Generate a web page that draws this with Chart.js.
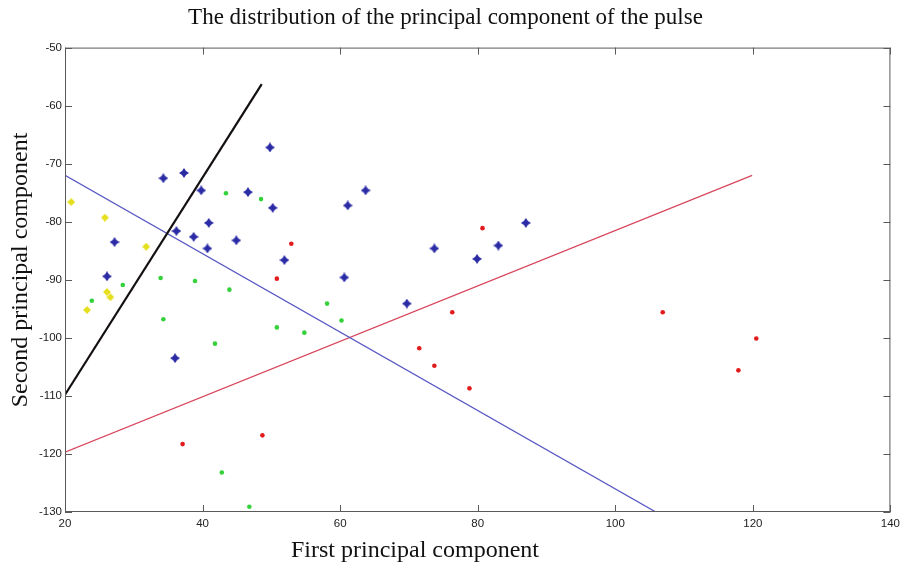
<!DOCTYPE html>
<html>
<head>
<meta charset="utf-8">
<title>Principal components</title>
<script src="https://cdn.jsdelivr.net/npm/chart.js@4/dist/chart.umd.min.js"></script>
<style>
  body { margin: 0; background: #fff; }
  #wrap { width: 905px; height: 566px; }
</style>
</head>
<body>
<div id="wrap"><canvas id="myChart"></canvas></div>
<script>
// points of each group
const blueX = [34.3, 37.3, 39.8, 49.8, 46.6, 50.2, 27.2, 36.2, 38.7, 40.9, 40.7, 44.9, 51.9, 26.1, 61.1, 63.7, 73.7, 83.0, 79.9, 87.0, 60.6, 69.7, 36.0];
const blueY = [-72.5, -71.6, -74.6, -67.2, -74.9, -77.6, -83.5, -81.6, -82.6, -80.2, -84.6, -83.2, -86.6, -89.4, -77.2, -74.6, -84.6, -84.1, -86.4, -80.2, -89.6, -94.1, -103.5];

const yellowX = [20.9, 25.8, 31.8, 23.2, 26.1, 26.6];
const yellowY = [-76.6, -79.3, -84.3, -95.2, -92.1, -93.0];

const greenX = [43.4, 48.5, 33.9, 28.4, 23.9, 38.9, 43.9, 34.3, 41.8, 50.8, 54.8, 42.8, 46.8, 58.1, 60.2];
const greenY = [-75.1, -76.1, -89.7, -90.9, -93.6, -90.2, -91.7, -96.8, -101.0, -98.2, -99.1, -123.2, -129.1, -94.1, -97.0];

const redX = [52.9, 80.7, 50.8, 37.1, 48.7, 76.3, 71.5, 73.7, 78.8, 106.9, 120.5, 117.9];
const redY = [-83.8, -81.1, -89.8, -118.3, -116.8, -95.6, -101.8, -104.8, -108.7, -95.6, -100.1, -105.6];

// separating lines (end points)
const blackLineX = [20, 48.6];
const blackLineY = [-109.8, -56.3];
const blueLineX = [20, 105.9];
const blueLineY = [-72.0, -130];
const redLineX = [20, 119.9];
const redLineY = [-119.7, -72.0];

// axis ticks
const xTicks = [20, 40, 60, 80, 100, 120, 140];
const yTicks = [-130, -120, -110, -100, -90, -80, -70, -60, -50];

function pts(xs, ys) {
    return xs.map((x, i) => ({ x: x, y: ys[i] }));
}

// four pointed star marker
function starMarker(size, color, fat) {
    const c = document.createElement('canvas');
    c.width = size; c.height = size;
    const g = c.getContext('2d');
    const m = size / 2, r = size / 2, k = size * fat;
    g.fillStyle = color;
    g.beginPath();
    g.moveTo(m, m - r);
    g.lineTo(m + k, m - k);
    g.lineTo(m + r, m);
    g.lineTo(m + k, m + k);
    g.lineTo(m, m + r);
    g.lineTo(m - k, m + k);
    g.lineTo(m - r, m);
    g.lineTo(m - k, m - k);
    g.closePath();
    g.fill();
    return c;
}

const blueStar = starMarker(10, '#2b2ba6', 0.2);
const yellowStar = starMarker(8, '#e6df1e', 0.24);

// frame on all four sides with inward ticks
const frameTicks = {
    id: 'frameTicks',
    afterDraw(chart) {
        const ctx = chart.ctx, a = chart.chartArea;
        const xs = chart.scales.x, ys = chart.scales.y;
        const len = 7;
        ctx.save();
        ctx.strokeStyle = '#5a5a5a';
        ctx.lineWidth = 1;
        ctx.strokeRect(a.left + 0.5, a.top + 0.5, a.right - a.left - 1, a.bottom - a.top - 1);
        ctx.beginPath();
        xTicks.forEach(v => {
            const p = Math.round(xs.getPixelForValue(v)) + 0.5;
            ctx.moveTo(p, a.bottom); ctx.lineTo(p, a.bottom - len);
            ctx.moveTo(p, a.top); ctx.lineTo(p, a.top + len);
        });
        yTicks.forEach(v => {
            const p = Math.round(ys.getPixelForValue(v)) + 0.5;
            ctx.moveTo(a.left, p); ctx.lineTo(a.left + len, p);
            ctx.moveTo(a.right, p); ctx.lineTo(a.right - len, p);
        });
        ctx.stroke();

        // axis titles
        ctx.fillStyle = '#111';
        ctx.font = '24px "Liberation Serif", "Times New Roman", serif';
        ctx.textAlign = 'center';
        ctx.textBaseline = 'middle';
        ctx.fillText('First principal component', 415, 551);
        ctx.translate(21, 270);
        ctx.rotate(-Math.PI / 2);
        ctx.fillText('Second principal component', 0, 0);
        ctx.restore();
    }
};

const ctx = document.getElementById('myChart').getContext('2d');
const myChart = new Chart(ctx, {
    type: 'scatter',
    data: {
        datasets: [
            { label: 'black line', data: pts(blackLineX, blackLineY), showLine: true, borderColor: '#151010', borderWidth: 2.2, pointRadius: 0 },
            { label: 'blue line', data: pts(blueLineX, blueLineY), showLine: true, borderColor: '#5656c4', borderWidth: 1.3, pointRadius: 0 },
            { label: 'red line', data: pts(redLineX, redLineY), showLine: true, borderColor: '#d8485f', borderWidth: 1.3, pointRadius: 0 },
            { label: 'blue', data: pts(blueX, blueY), pointStyle: blueStar },
            { label: 'yellow', data: pts(yellowX, yellowY), pointStyle: yellowStar },
            { label: 'green', data: pts(greenX, greenY), pointStyle: 'circle', pointRadius: 2.3, backgroundColor: '#34d13a', borderWidth: 0 },
            { label: 'red', data: pts(redX, redY), pointStyle: 'circle', pointRadius: 2.3, backgroundColor: '#e21c1c', borderWidth: 0 }
        ]
    },
    plugins: [frameTicks],
    options: {
        responsive: true,
        maintainAspectRatio: false,
        animation: false,
        layout: { padding: { left: 0, right: 14, top: 0, bottom: 0 } },
        plugins: {
            legend: { display: false },
            tooltip: { enabled: false },
            title: {
                display: true,
                text: 'The distribution of the principal component of the pulse',
                color: '#111',
                font: { family: '"Liberation Serif", "Times New Roman", serif', size: 23, weight: 'normal' },
                padding: { top: 4, bottom: 16 }
            }
        },
        scales: {
            x: {
                type: 'linear',
                min: 20, max: 140,
                afterBuildTicks: s => { s.ticks = xTicks.map(v => ({ value: v })); },
                afterFit: s => { s.height = 54; },
                grid: { display: false, drawTicks: false },
                border: { display: false },
                ticks: {
                    color: '#222', padding: 5,
                    font: { family: '"Liberation Sans", Arial, sans-serif', size: 11.5 }
                }
            },
            y: {
                type: 'linear',
                min: -130, max: -50,
                afterBuildTicks: s => { s.ticks = yTicks.map(v => ({ value: v })); },
                afterFit: s => { s.width = 65; },
                grid: { display: false, drawTicks: false },
                border: { display: false },
                ticks: {
                    color: '#222', padding: 3,
                    font: { family: '"Liberation Sans", Arial, sans-serif', size: 11.5 }
                }
            }
        }
    }
});
</script>
</body>
</html>
